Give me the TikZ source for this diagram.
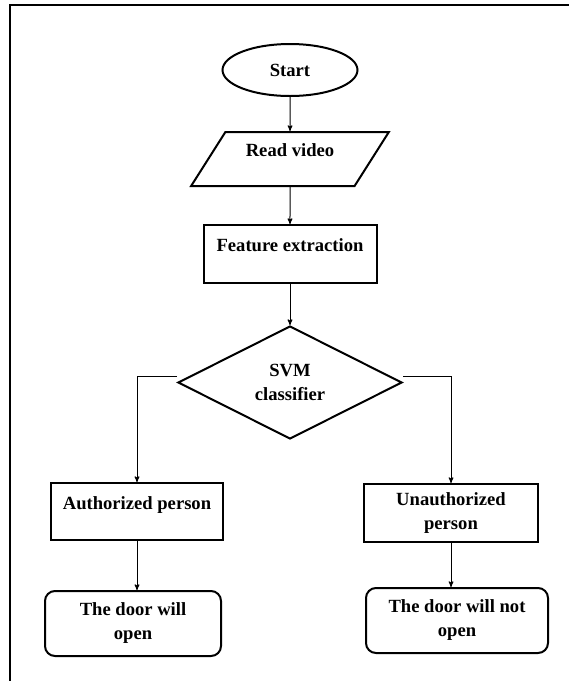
\documentclass[tikz,border=0pt]{standalone}
\usepackage{fontspec}
\setmainfont{Liberation Serif}
\usetikzlibrary{positioning,arrows,shapes.geometric}

\begin{document}
\begin{tikzpicture}[x=1pt,y=-1pt,>=stealth',
    font=\fontsize{18.6}{24}\selectfont\bfseries,
    box/.style={draw,line width=2pt,align=center,inner sep=2pt},
    uptext/.style={text height=13pt,text depth=18pt},
    endbox/.style={box,rounded corners=10pt},
    link/.style={->,line width=1pt}]
    \useasboundingbox (0,0) rectangle (569,681);
    \draw[line width=2pt] (569,5) -- (10,5) -- (10,681);
    %
    \node[box,ellipse,minimum width=135pt,minimum height=52pt] (start) at (290,70) {Start};
    \node[box,trapezium,trapezium left angle=55,trapezium right angle=125,trapezium stretches=true,
          minimum width=198pt,minimum height=54pt,uptext,below=34pt of start] (read) {Read video};
    \node[box,minimum width=173pt,minimum height=58pt,uptext,below=37pt of read] (feat) {Feature extraction};
    \node[box,diamond,aspect=2,minimum width=224pt,minimum height=113pt,below=41pt of feat] (svm) {SVM\\classifier};
    %
    \node[box,minimum width=172pt,minimum height=57pt,uptext] (auth) at (137,511.5) {Authorized person};
    \node[box,minimum width=174pt,minimum height=58pt] (unauth) at (451,513) {Unauthorized\\person};
    \node[endbox,minimum width=176pt,minimum height=65pt,below=49pt of auth,xshift=-4pt] (door1) {The door will\\open};
    \node[endbox,minimum width=182pt,minimum height=65pt,below=44pt of unauth,xshift=6pt] (door2) {The door will not\\open};
    %
    \draw[link] (start) -- (read);
    \draw[link] (read) -- (feat);
    \draw[link] (feat) -- (svm);
    \draw[link] ([yshift=6pt]svm.west) -| (auth);
    \draw[link] ([yshift=6pt]svm.east) -| (unauth);
    \draw[link] (auth) -- (auth |- door1.north);
    \draw[link] (unauth) -- (unauth |- door2.north);
\end{tikzpicture}
\end{document}
